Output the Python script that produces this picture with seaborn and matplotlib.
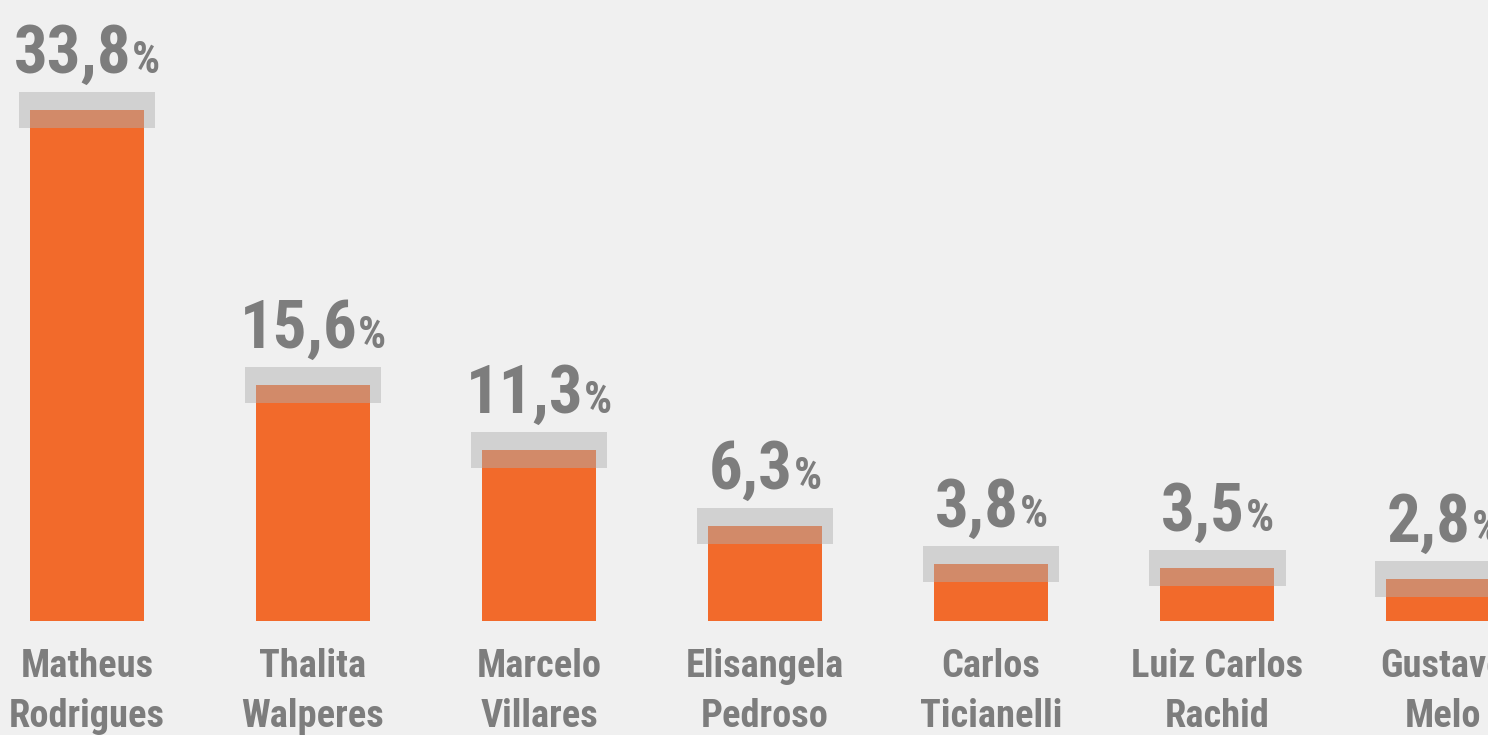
import matplotlib
matplotlib.use("Agg")
import matplotlib.pyplot as plt
import seaborn as sns
import pandas as pd
from matplotlib import font_manager
from matplotlib.patches import Rectangle
from matplotlib.transforms import ScaledTranslation

# Data
CANDIDATES = [
    "Matheus\nRodrigues", "Thalita\nWalperes", "Marcelo\nVillares",
    "Elisangela\nPedroso", "Carlos\nTicianelli", "Luiz Carlos\nRachid",
    "Gustavo\nMelo",
]
PERCENT = [33.8, 15.6, 11.3, 6.3, 3.8, 3.5, 2.8]
VALUE_LABELS = ["33,8", "15,6", "11,3", "6,3", "3,8", "3,5", "2,8"]

BG = "#F0F0F0"
ORANGE = "#F26A2B"
TEXT_GRAY = "#7D7D7D"
BOX_GRAY = "#B0B0B0"
DPI = 100

sns.set_theme(style="white")

# pick the narrowest family we can find
installed = {(f.name, f.stretch) for f in font_manager.fontManager.ttflist}
names = {n for n, _ in installed}
FAMILY, STRETCH = "DejaVu Sans", "normal"
for fam in ["Roboto Condensed", "Liberation Sans Narrow", "Open Sans Condensed"]:
    if fam in names:
        FAMILY, STRETCH = fam, "normal"
        break
else:
    for fam in ["Roboto", "Open Sans", "DejaVu Sans", "Noto Sans"]:
        if any(n == fam and s in ("condensed", "semi-condensed", 75, 87)
               for n, s in installed):
            FAMILY, STRETCH = fam, "condensed"
            break
plt.rcParams['font.family'] = [FAMILY, 'DejaVu Sans']

fig = plt.figure(figsize=(14.88, 7.35), dpi=DPI, facecolor=BG)
ax = fig.add_axes([0, 0, 1, 1])
ax.set_facecolor(BG)

df = pd.DataFrame({"name": CANDIDATES, "pct": PERCENT})
sns.barplot(data=df, x="name", y="pct", color=ORANGE, saturation=1,
            width=0.504, linewidth=0, ax=ax, zorder=2)

ax.set_xlim(-0.385, 6.199)
ax.set_ylim(-7.54, 41.07)
ax.axis("off")

renderer = fig.canvas.get_renderer()


def px_offset(dx, dy):
    return ax.transData + ScaledTranslation(dx / DPI, dy / DPI, fig.dpi_scale_trans)


def fit_size(text, size, target):
    t = fig.text(0, 0, text, fontsize=size, fontweight="bold", fontstretch=STRETCH)
    w = t.get_window_extent(renderer).width
    t.remove()
    return size * min(1.0, target / w)


# grey translucent boxes over bar tops
for i, v in enumerate(PERCENT):
    ax.add_patch(Rectangle((i - 0.303, v - 1.19), 0.606, 2.38,
                           facecolor=BOX_GRAY, alpha=0.47, lw=0, zorder=3))

num_size = fit_size("33,8", 60, 118)
pct_size = num_size * 0.66
name_size = fit_size("Rodrigues", 36, 156)

# value labels: big number + small %
for i, (v, lab) in enumerate(zip(PERCENT, VALUE_LABELS)):
    t1 = ax.text(i, v, lab, fontsize=num_size, fontweight="bold", fontstretch=STRETCH,
                 color=TEXT_GRAY, ha="left", va="baseline", zorder=4)
    t2 = ax.text(i, v, "%", fontsize=pct_size, fontweight="bold", fontstretch=STRETCH,
                 color=TEXT_GRAY, ha="left", va="baseline", zorder=4)
    w1 = t1.get_window_extent(renderer).width
    w2 = t2.get_window_extent(renderer).width
    gap = 1
    x0 = -(w1 + gap + w2) / 2
    t1.set_transform(px_offset(x0, 37))
    t2.set_transform(px_offset(x0 + w1 + gap, 37))

# category labels, two lines each
for i, name in enumerate(CANDIDATES):
    for k, line in enumerate(name.split("\n")):
        ax.text(i, 0, line, fontsize=name_size, fontweight="bold", fontstretch=STRETCH,
                color=TEXT_GRAY, ha="center", va="baseline",
                transform=px_offset(0, -56 - 50 * k))

fig.savefig("out.png", dpi=DPI, facecolor=BG)
